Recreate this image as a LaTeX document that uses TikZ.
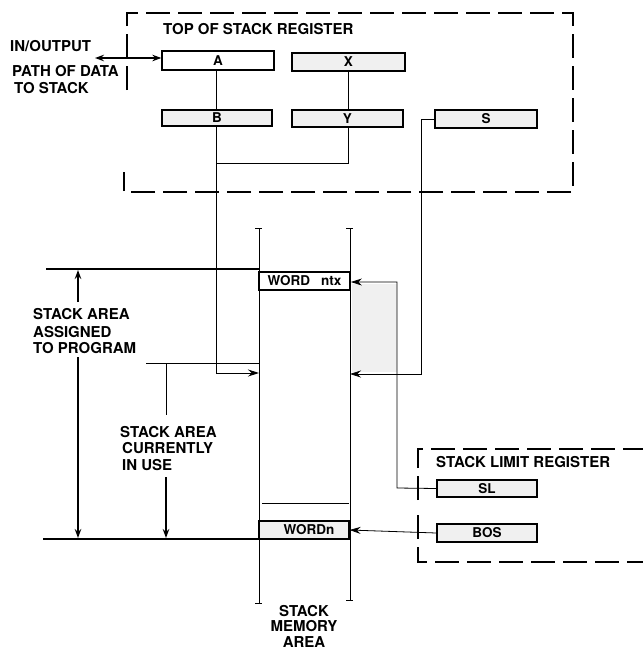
\documentclass[tikz,border=0pt]{standalone}
\usepackage{fontspec}
\setmainfont{TeX Gyre Heros}
\usetikzlibrary{arrows.meta}
\begin{document}
\begin{tikzpicture}[x=1pt,y=-1pt,
  reg/.style={draw=black,line width=1.3pt,fill=gray!12,minimum height=17pt,inner sep=0pt,font=\fontsize{13.5}{13.5}\selectfont\bfseries},
  lbl/.style={anchor=base west,inner sep=0pt,font=\fontsize{15}{15}\selectfont\bfseries},
  clbl/.style={anchor=base,inner sep=0pt,font=\fontsize{15}{15}\selectfont\bfseries},
  dashbox/.style={line width=1.7pt,dash pattern=on 24pt off 8pt},
  conn/.style={line width=0.8pt},
  thin/.style={line width=0.6pt},
  tip/.style={-{Stealth[length=9pt,width=6.5pt]}},
  bigtip/.style={-{Stealth[length=11pt,width=7pt]}}
]
\useasboundingbox (0,0) rectangle (643,649);

% ---------- top of stack register ----------
\draw[dashbox] (127,90) -- (127,13) -- (573,13) -- (573,192) -- (124,192) -- (124,172);
\node[lbl] (tosr) at (163,34) {TOP OF STACK REGISTER};

\node[reg,fill=white,minimum width=112pt,minimum height=19pt] (A) at (218,60.5) {A};
\node[reg,minimum width=113pt,minimum height=18pt] (X) at (348.5,62) {X};
\node[reg,minimum width=110pt,minimum height=16pt] (B) at (217,118) {B};
\node[reg,minimum width=111pt,minimum height=17pt] (Y) at (347.5,118.5) {Y};
\node[reg,minimum width=102pt,minimum height=18pt] (S) at (486,119) {S};

% in/output path
\node[lbl] (io1) at (10,51) {IN/OUTPUT};
\node[lbl] (io2) at (12,76) {PATH OF DATA};
\node[lbl] (io3) at (14,93) {TO STACK};
\coordinate (ioL) at (95,58);
\draw[line width=1.5pt,{Stealth[length=9pt,width=6.5pt]}-{Stealth[length=9pt,width=6.5pt]}] (ioL) -- (A.west |- ioL);

% register interconnections
\coordinate (jb) at (216,163);
\coordinate (jy) at (348,163);
\coordinate (ja) at (216,373);
\draw[conn] (A.south -| jb) -- (B.north -| jb);
\draw[conn] (Y.north -| jy) -- (X.south -| jy);
\draw[conn] (B.south -| jb) -- (jb) -- (jy) -- (Y.south -| jy);

% ---------- stack memory column ----------
\coordinate (cLt) at (259,228);
\coordinate (cLb) at (259,603);
\coordinate (cRt) at (350,228);
\coordinate (cRb) at (350,600);
\fill[gray!12] (352,284) rectangle (397,372);
\draw[conn] (cLt) -- (cLb);
\draw[conn] (cRt) -- (cRb);
\draw[conn] (255,228) -- (262,228);
\draw[conn] (346,228) -- (353,228);
\draw[conn] (255,603) -- (262,603);
\draw[conn] (346,600) -- (353,600);
\draw[thin] (262,503) -- (349,503);

\node[draw=black,line width=1.8pt,fill=white,minimum width=91pt,minimum height=18pt,inner sep=0pt,
      font=\fontsize{13.5}{13.5}\selectfont\bfseries] (Wntx) at (304.5,281) {WORD\hspace{11pt}ntx};
\node[draw=black,line width=1.2pt,fill=gray!12,minimum width=90pt,minimum height=18pt,inner sep=0pt,
      font=\fontsize{13.5}{13.5}\selectfont\bfseries] (Wn) at (304,530) {\hspace{10pt}WORDn};

% data path from A/B to stack
\draw[conn,bigtip,line width=1pt] (jb) -- (ja) -- (cLt |- ja);

% S pointer
\coordinate (s1) at (421,119);
\coordinate (s2) at (421,374);
\draw[conn,bigtip] (S.west) -- (s1) -- (s2) -- (cRt |- s2);

% ---------- stack limit register ----------
\draw[dashbox] (418,500) -- (418,449) -- (645,449);
\draw[dashbox] (418,515) -- (418,562) -- (645,562);
\node[lbl] (slr) at (436,467) {STACK LIMIT REGISTER};
\node[reg,minimum width=100pt,minimum height=17pt] (SL) at (487,488.5) {SL};
\node[reg,minimum width=100pt,minimum height=18pt] (BOS) at (487,533) {BOS};

\coordinate (l1) at (397,488);
\coordinate (l2) at (397,282);
\draw[conn,bigtip] (SL.west) -- (l1) -- (l2) -- (Wntx.east |- l2);
\draw[conn,bigtip] (BOS.west) -- (Wn.east);

% ---------- stack area boundaries ----------
\draw[line width=1.6pt] (46,269) -- (cLt |- 0,269);
\draw[line width=1pt] (146,363) -- (cLt |- 0,363);
\draw[line width=2pt] (43,539) -- (cLt |- 0,539);

\node[lbl] (as1) at (33,319) {STACK AREA};
\node[lbl] (as2) at (33,337) {ASSIGNED};
\node[lbl] (as3) at (33,353) {TO PROGRAM};
\draw[line width=1.8pt,tip] (78,302) -- (78,270);
\draw[line width=1.8pt,tip] (78,357) -- (78,538);

\node[lbl] (cu1) at (120,437) {STACK AREA};
\node[lbl] (cu2) at (122,453) {CURRENTLY};
\node[lbl] (cu3) at (122,470) {IN USE};
\draw[thin] (166,364) -- (166,415);
\draw[line width=1.8pt,tip] (166,477) -- (166,538);

\node[clbl] (sm1) at (304,616) {STACK};
\node[clbl] (sm2) at (304,631.5) {MEMORY};
\node[clbl] (sm3) at (304,647) {AREA};
\end{tikzpicture}
\end{document}
